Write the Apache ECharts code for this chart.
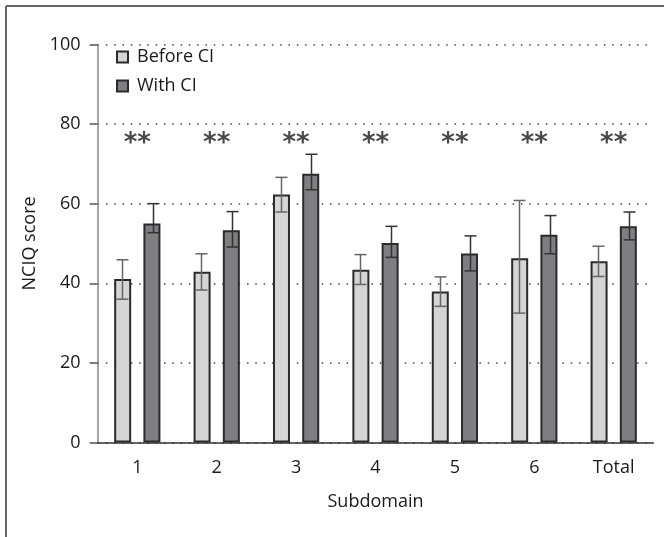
<!DOCTYPE html>
<html>
<head>
<meta charset="utf-8">
<script src="https://cdn.jsdelivr.net/npm/echarts@6/dist/echarts.min.js"></script>
<style>
html,body{margin:0;padding:0;background:#fff;}
#main{width:664px;height:537px;}
</style>
</head>
<body>
<div id="main"></div>
<script>
var categories = ['1', '2', '3', '4', '5', '6', 'Total'];
var yTicks = [0, 20, 40, 60, 80, 100];
var beforeCI = [41.1, 42.9, 62.3, 43.4, 37.9, 46.3, 45.5];
var beforeLow = [36.0, 38.3, 57.9, 39.7, 34.2, 32.5, 41.7];
var beforeHigh = [45.9, 47.4, 66.6, 47.2, 41.6, 60.8, 49.3];
var withCI = [55.0, 53.3, 67.5, 50.1, 47.5, 52.2, 54.3];
var withLow = [52.7, 49.1, 63.5, 46.5, 43.1, 47.4, 50.9];
var withHigh = [60.0, 58.0, 72.4, 54.3, 51.9, 57.0, 57.9];
var significance = ['**', '**', '**', '**', '**', '**', '**'];
var significanceY = [76.5, 76.5, 76.5, 76.5, 76.5, 76.5, 76.5];

var FONT = 'Open Sans';
var BAR_W = 17;
var OFFSET = 15.3;

function errData(low, high) {
  return low.map(function (l, i) { return [i, l, high[i]]; });
}
function errRender(offset, color) {
  return function (params, api) {
    var i = api.value(0);
    var pHigh = api.coord([i, api.value(2)]);
    var pLow = api.coord([i, api.value(1)]);
    var x = Math.round(pHigh[0] + offset) + 0.5;
    var half = 6;
    var style = { stroke: color, lineWidth: 1.5, fill: null };
    return {
      type: 'group',
      children: [
        { type: 'line', shape: { x1: x, y1: pHigh[1], x2: x, y2: pLow[1] }, style: style },
        { type: 'line', shape: { x1: x - half, y1: pHigh[1], x2: x + half, y2: pHigh[1] }, style: style },
        { type: 'line', shape: { x1: x - half, y1: pLow[1], x2: x + half, y2: pLow[1] }, style: style }
      ]
    };
  };
}

var chart = echarts.init(document.getElementById('main'), null, { renderer: 'canvas' });
chart.setOption({
  animation: false,
  backgroundColor: '#ffffff',
  textStyle: { fontFamily: FONT },
  grid: { left: 97.6, right: 10.6, top: 44.4, bottom: 94.5, containLabel: false },
  legend: {
    orient: 'vertical',
    left: 116,
    top: 48,
    padding: 0,
    itemWidth: 11,
    itemHeight: 11,
    itemGap: 11,
    icon: 'rect',
    data: ['Before CI', 'With CI'],
    textStyle: { fontFamily: FONT, fontSize: 18, lineHeight: 18, color: '#1a1a1a', padding: [0, 0, 0, 4] }
  },
  xAxis: {
    type: 'category',
    data: categories,
    boundaryGap: true,
    name: 'Subdomain',
    nameLocation: 'middle',
    nameGap: 50,
    nameTextStyle: { fontFamily: FONT, fontSize: 18, color: '#1a1a1a' },
    axisLine: { lineStyle: { color: '#333', width: 1.5 } },
    axisTick: { alignWithLabel: true, length: 7, lineStyle: { color: '#555', width: 1.5 } },
    axisLabel: { margin: 16, fontFamily: FONT, fontSize: 18, color: '#1a1a1a' },
    splitLine: { show: false }
  },
  yAxis: {
    type: 'value',
    min: yTicks[0],
    max: yTicks[yTicks.length - 1],
    interval: 20,
    name: 'NCIQ score',
    nameLocation: 'middle',
    nameGap: 59,
    nameTextStyle: { fontFamily: FONT, fontSize: 18, color: '#1a1a1a' },
    axisLine: { show: true, lineStyle: { color: '#888', width: 1.5 } },
    axisTick: { show: true, length: 8, lineStyle: { color: '#555', width: 1.5 } },
    axisLabel: { margin: 17, fontFamily: FONT, fontSize: 18, color: '#1a1a1a' },
    splitLine: { show: true, lineStyle: { color: '#444', width: 1.5, type: [1.5, 6.8] } }
  },
  series: [
    {
      name: 'Before CI',
      type: 'bar',
      data: beforeCI,
      barWidth: BAR_W,
      barGap: '72%',
      itemStyle: { color: '#d4d5d7', borderColor: '#2a2a2a', borderWidth: 2 }
    },
    {
      name: 'With CI',
      type: 'bar',
      data: withCI,
      barWidth: BAR_W,
      barGap: '72%',
      itemStyle: { color: '#7e7f83', borderColor: '#2a2a2a', borderWidth: 2 }
    },
    {
      type: 'custom',
      name: 'errBefore',
      data: errData(beforeLow, beforeHigh),
      encode: { x: 0, y: [1, 2] },
      renderItem: errRender(-OFFSET, '#666'),
      z: 5,
      silent: true
    },
    {
      type: 'custom',
      name: 'errWith',
      data: errData(withLow, withHigh),
      encode: { x: 0, y: [1, 2] },
      renderItem: errRender(OFFSET, '#333'),
      z: 5,
      silent: true
    },
    {
      type: 'scatter',
      name: 'sig',
      data: significanceY.map(function (v, i) { return [i, v]; }),
      symbolSize: 0,
      silent: true,
      label: {
        show: true,
        position: 'inside',
        formatter: function (p) { return significance[p.dataIndex]; },
        fontFamily: 'DejaVu Sans',
        fontSize: 26,
        fontWeight: 'bold',
        color: '#1a1a1a',
        offset: [0, 6]
      }
    }
  ],
  graphic: [
    { type: 'line', shape: { x1: 6, y1: 6, x2: 664, y2: 6 }, style: { stroke: '#666', lineWidth: 2 } },
    { type: 'line', shape: { x1: 6, y1: 6, x2: 6, y2: 537 }, style: { stroke: '#666', lineWidth: 2 } }
  ]
});
</script>
</body>
</html>
